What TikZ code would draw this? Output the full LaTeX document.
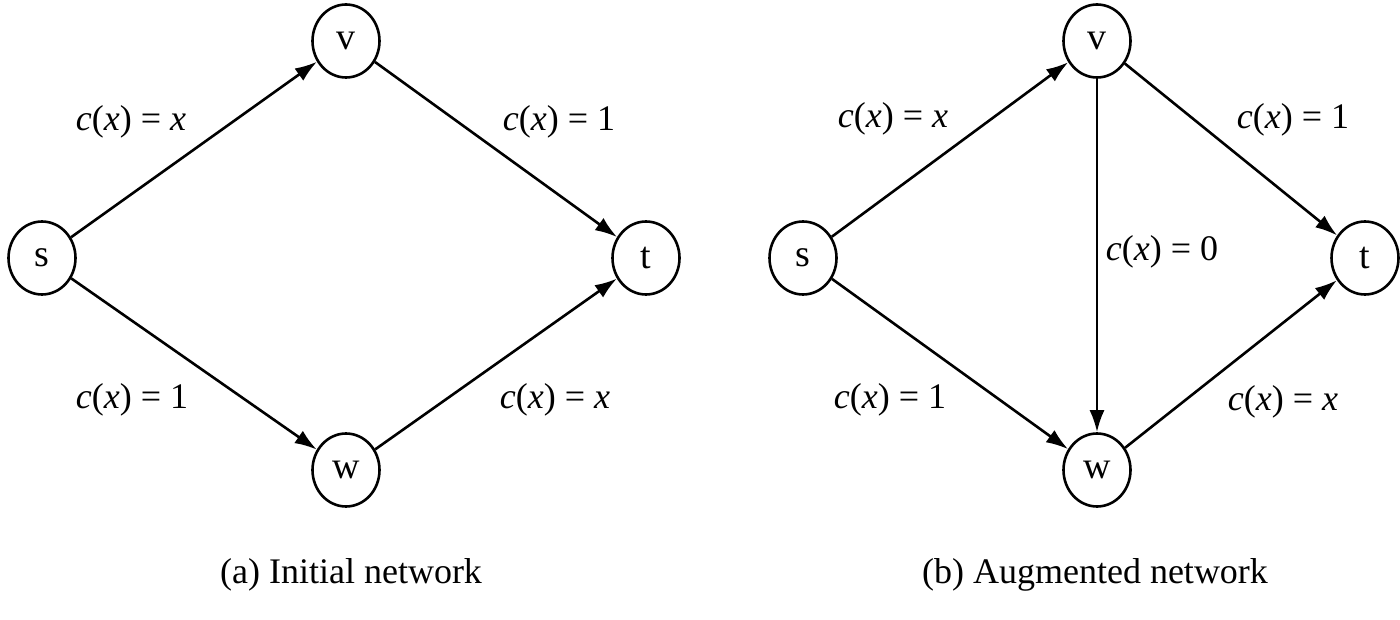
\documentclass[tikz,border=0pt]{standalone}
\usepackage{fontspec}
\setmainfont{Liberation Serif}
\usetikzlibrary{shapes.geometric,arrows.meta}
\begin{document}
\begin{tikzpicture}[x=1pt,y=-1pt,
  vertex/.style={draw,ellipse,line width=2.6pt,minimum width=67pt,minimum height=73pt,inner sep=0pt,font=\fontsize{38}{40}\selectfont},
  edge/.style={line width=2.6pt,-{Latex[length=22pt,width=15pt]}},
  lbl/.style={font=\fontsize{36}{40}\selectfont,inner sep=0pt},
  captext/.style={font=\fontsize{36}{40}\selectfont,inner sep=0pt,anchor=base}]
\useasboundingbox[fill=white] (0,0) rectangle (1400,620);
% left panel
\node[vertex] (s1) at (42,258) {s};
\node[vertex] (v1) at (346,41) {v};
\node[vertex] (t1) at (646,258) {t};
\node[vertex] (w1) at (346,470) {w};
\draw[edge] (s1) -- (v1);
\draw[edge] (v1) -- (t1);
\draw[edge] (s1) -- (w1);
\draw[edge] (w1) -- (t1);
\node[lbl] (l1) at (131,122) {\textit{c}(\textit{x}) = \textit{x}};
\node[lbl] (l2) at (559,122) {\textit{c}(\textit{x}) = 1};
\node[lbl] (l3) at (132,400) {\textit{c}(\textit{x}) = 1};
\node[lbl] (l4) at (555,400) {\textit{c}(\textit{x}) = \textit{x}};
\node[captext] (ca) at (351,583) {(a) Initial network};
% right panel
\node[vertex] (s2) at (803,258) {s};
\node[vertex] (v2) at (1097,41) {v};
\node[vertex] (t2) at (1365,258) {t};
\node[vertex] (w2) at (1097,470) {w};
\draw[edge] (s2) -- (v2);
\draw[edge] (v2) -- (t2);
\draw[edge] (s2) -- (w2);
\draw[edge] (w2) -- (t2);
\draw[edge] (v2) -- (w2);
\node[lbl] (r1) at (893,119) {\textit{c}(\textit{x}) = \textit{x}};
\node[lbl] (r2) at (1293,120) {\textit{c}(\textit{x}) = 1};
\node[lbl] (r3) at (1162,252) {\textit{c}(\textit{x}) = 0};
\node[lbl] (r4) at (890,400) {\textit{c}(\textit{x}) = 1};
\node[lbl] (r5) at (1283,402) {\textit{c}(\textit{x}) = \textit{x}};
\node[captext] (cb) at (1095,583) {(b) Augmented network};
\end{tikzpicture}
\end{document}
